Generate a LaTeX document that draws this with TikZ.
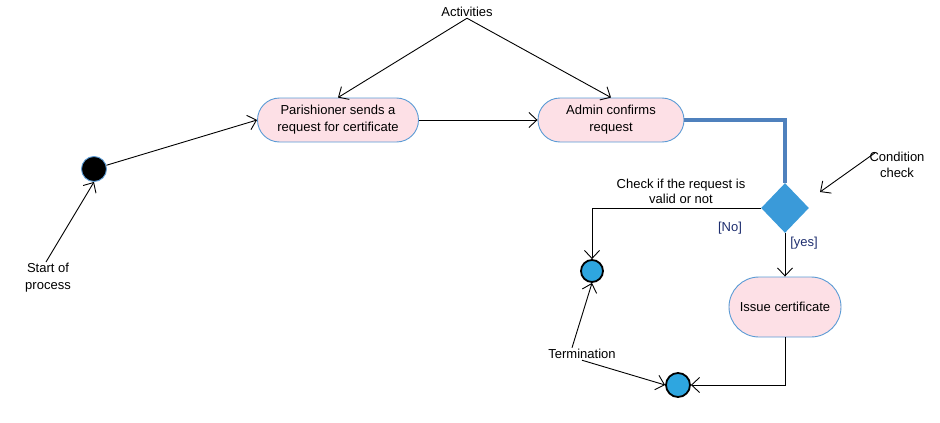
\documentclass[tikz,border=0pt]{standalone}
\usepackage{fontspec}
\setmainfont{Liberation Sans}
\usetikzlibrary{arrows.meta,shapes.misc,shapes.geometric}
\definecolor{actfill}{RGB}{253,224,230}
\definecolor{actline}{RGB}{91,155,213}
\definecolor{flowblue}{RGB}{79,129,189}
\definecolor{decfill}{RGB}{58,154,217}
\definecolor{endfill}{RGB}{46,166,224}
\definecolor{guardtxt}{RGB}{29,45,110}
\begin{document}
\begin{tikzpicture}[x=1pt,y=-1pt,line width=0.9pt,
  font=\fontsize{13}{16}\selectfont,
  >={Straight Barb[length=8pt,width=15pt]},
  activity/.style={rounded rectangle,draw=actline,fill=actfill,inner sep=2pt,align=center,
    font=\fontsize{13}{17}\selectfont},
  decision/.style={diamond,fill=decfill,inner sep=0pt,minimum width=48pt,minimum height=50pt},
  finalnode/.style={circle,draw=black,line width=1.8pt,fill=endfill,inner sep=0pt,minimum size=22pt},
  note/.style={align=center,inner sep=1pt},
  guard/.style={text=guardtxt,inner sep=1pt}]

\useasboundingbox (0,0) rectangle (940,423);

% Start point
\node[circle,draw=actline,fill=black,inner sep=0pt,minimum size=25pt] (start) at (94,169) {};

% Activities
\node[activity,minimum width=165pt,minimum height=44pt] (par) at (338,120) {Parishioner sends a\\request for certificate};
\node[activity,minimum width=150pt,minimum height=44pt] (adm) at (611,120) {Admin confirms\\request};
\node[activity,minimum width=116pt,minimum height=60pt] (iss) at (785,307) {Issue certificate};

% Decision and end points
\node[decision] (dec) at (785,208) {};
\node[finalnode] (end1) at (592,271) {};
\node[finalnode,minimum size=24pt] (end2) at (678,385) {};

% Notes
\node[note] (act) at (467,12) {Activities};
\node[note,font=\fontsize{13}{17}\selectfont] (sop) at (48,278) {Start of\\process};
\node[note] (cond) at (897,165) {Condition\\check};
\node[note,font=\fontsize{13}{15}\selectfont] (chk) at (681,191) {Check if the request is\\valid or not};
\node[note] (term) at (582,354) {Termination};
\node[guard] (no) at (730,228) {[No]};
\node[guard] (yes) at (804,243) {[yes]};

% Flow
\draw[->] (start) -- (par.west);
\draw[->] (par.east) -- (adm.west);
\draw[flowblue,line width=4pt] (adm.east) -| (dec.north);
\draw[->] (dec.west) -| (end1.north);
\draw[->] (dec.south) -- (iss.north);
\draw[->] (iss.south) |- (end2.east);

% Note arrows
\draw[->] (act.south) -- (par.north);
\draw[->] (act.south) -- (adm.north);
\draw[->] ([xshift=-2pt]sop.north) -- (start.south);
\draw[->] ([xshift=7pt,yshift=-2pt]cond.north west) -- (820,192);
\draw[->] ([xshift=-10pt]term.north) -- (end1.south);
\draw[->] (term.south) -- (end2.west);

\end{tikzpicture}
\end{document}
